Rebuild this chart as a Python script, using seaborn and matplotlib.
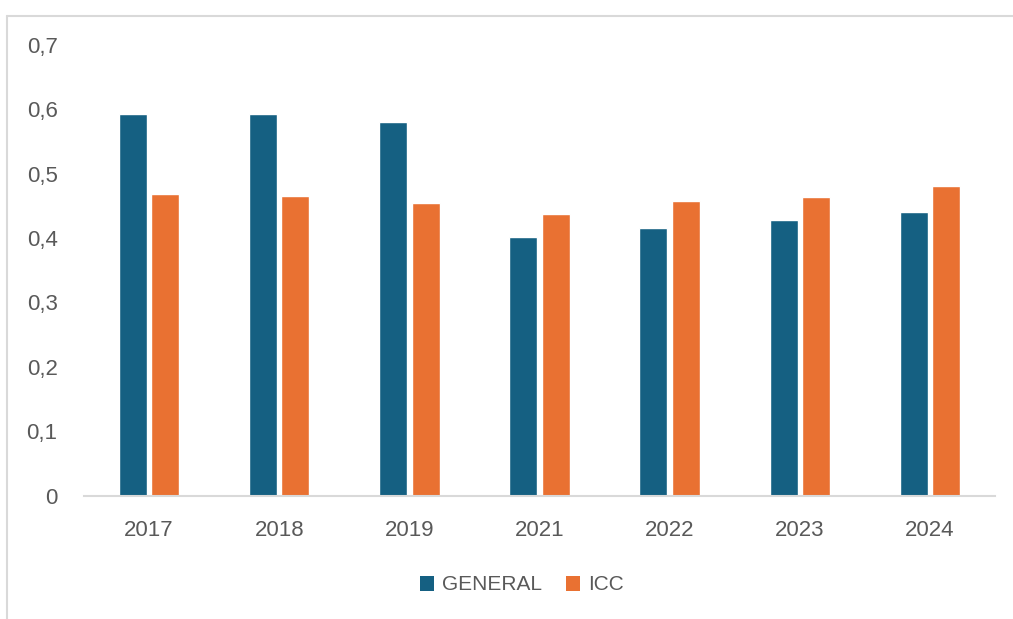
import matplotlib
matplotlib.use("Agg")
import matplotlib.pyplot as plt
from matplotlib.lines import Line2D
from matplotlib.patches import Patch
import pandas as pd
import seaborn as sns

years = ["2017", "2018", "2019", "2021", "2022", "2023", "2024"]
general = [0.593, 0.593, 0.580, 0.402, 0.415, 0.428, 0.441]
icc = [0.468, 0.465, 0.455, 0.438, 0.458, 0.464, 0.481]
series = ["GENERAL", "ICC"]
colors = ["#156082", "#E97132"]
y_ticks = [0.0, 0.1, 0.2, 0.3, 0.4, 0.5, 0.6, 0.7]

df = pd.DataFrame({
    "year": years * 2,
    "value": general + icc,
    "series": [series[0]] * len(years) + [series[1]] * len(years),
})

sns.set_theme(style="white")
plt.rcParams["font.family"] = ["Liberation Sans", "DejaVu Sans"]
text_color = "#595959"

W, H = 1013, 619
fig = plt.figure(figsize=(W / 100, H / 100), dpi=100)
ax = fig.add_axes([84 / W, 1 - 495.5 / H, (995 - 84) / W, (495.5 - 45) / H])

sns.barplot(data=df, x="year", y="value", hue="series", order=years,
            hue_order=series, palette=colors, width=0.5, gap=0.14,
            saturation=1, legend=False, ax=ax)

ax.set_xlim(-0.5, len(years) - 0.5)
ax.set_ylim(0, 0.7)
ax.set_yticks(y_ticks)
ax.set_yticklabels([("%g" % t).replace(".", ",") for t in y_ticks])
ax.set_xlabel("")
ax.set_ylabel("")
ax.tick_params(axis="both", length=0, labelsize=16, colors=text_color)
ax.tick_params(axis="y", pad=19)
ax.tick_params(axis="x", pad=17.5)
for s in ["top", "right", "left"]:
    ax.spines[s].set_visible(False)
ax.spines["bottom"].set_color("#D9D9D9")
ax.spines["bottom"].set_linewidth(1.5)

handles = [Patch(facecolor=c, edgecolor="none") for c in colors]
fig.legend(handles, series, loc="center", bbox_to_anchor=(522 / W, 1 - 585 / H),
           ncol=2, frameon=False, fontsize=15, labelcolor=text_color,
           handlelength=0.65, handleheight=0.75, handletextpad=0.4,
           columnspacing=1.15)

# outer frame edges
fig.add_artist(Line2D([7 / W, 1.0], [1 - 16 / H, 1 - 16 / H], color="#D9D9D9", lw=1.5))
fig.add_artist(Line2D([7 / W, 7 / W], [0.0, 1 - 16 / H], color="#D9D9D9", lw=1.5))

fig.savefig("out.png", dpi=100, facecolor="white")
